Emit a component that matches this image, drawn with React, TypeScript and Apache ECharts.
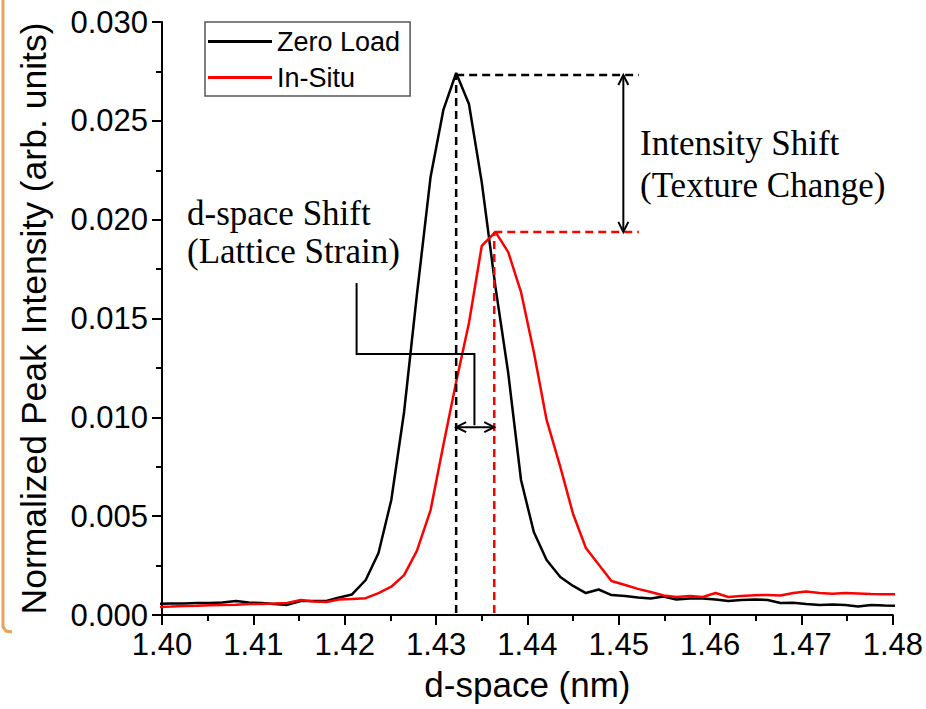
import React, { useEffect, useRef } from "react";
import * as echarts from "echarts";

// d-space sample positions (nm)
const dSpace = [
  1.3995, 1.4010, 1.4024, 1.4038, 1.4052, 1.4066, 1.4081, 1.4095, 1.4109, 1.4123,
  1.4137, 1.4152, 1.4166, 1.4180, 1.4194, 1.4208, 1.4223, 1.4237, 1.4251, 1.4265,
  1.4279, 1.4294, 1.4308, 1.4322, 1.4336, 1.4350, 1.4365, 1.4379, 1.4393, 1.4407,
  1.4421, 1.4436, 1.4450, 1.4464, 1.4478, 1.4492, 1.4507, 1.4521, 1.4535, 1.4549,
  1.4563, 1.4578, 1.4592, 1.4606, 1.4620, 1.4634, 1.4649, 1.4663, 1.4677, 1.4691,
  1.4705, 1.4720, 1.4734, 1.4748, 1.4762, 1.4776, 1.4791, 1.4805,
];

const zeroLoad = [
  0.00056, 0.00058, 0.00058, 0.00061, 0.00061, 0.00063, 0.00071, 0.00063, 0.00061, 0.00056,
  0.00051, 0.00071, 0.00071, 0.00071, 0.00089, 0.00104, 0.00177, 0.00314, 0.00582, 0.01027,
  0.01619, 0.02216, 0.02555, 0.02742, 0.02585, 0.0219, 0.0166, 0.01224, 0.00683, 0.0042,
  0.00278, 0.00192, 0.00147, 0.00111, 0.00129, 0.00101, 0.00096, 0.00089, 0.00084, 0.00094,
  0.00078, 0.00083, 0.00084, 0.00078, 0.00071, 0.00076, 0.00079, 0.00076, 0.00061, 0.00062,
  0.00056, 0.00051, 0.00053, 0.00051, 0.00043, 0.00051, 0.00048, 0.00046,
];

const inSitu = [
  0.0004, 0.00043, 0.00046, 0.00047, 0.00049, 0.00051, 0.00052, 0.00056, 0.00056, 0.00058,
  0.00061, 0.00076, 0.00068, 0.00066, 0.00078, 0.00081, 0.00085, 0.00111, 0.00143, 0.00202,
  0.00324, 0.00531, 0.0086, 0.01179, 0.01477, 0.01867, 0.01938, 0.01836, 0.01634, 0.0133,
  0.00987, 0.00749, 0.00511, 0.00339, 0.00256, 0.00172, 0.00152, 0.00132, 0.00116, 0.00099,
  0.00091, 0.00096, 0.00091, 0.00111, 0.00091, 0.00096, 0.001, 0.00101, 0.00099, 0.00111,
  0.00119, 0.00111, 0.00108, 0.00111, 0.00109, 0.00106, 0.00105, 0.00105,
];

const seriesNames = ["Zero Load", "In-Situ"];
const seriesColors = ["#000000", "#ff0000"];

// annotation anchors in data coordinates
const zeroPeak = [1.4322, 0.02742];
const situPeak = [1.43637, 0.01938];
const guideEndX = 1.4522;
const intensityArrowX = 1.4505;
const bracket = [
  [1.4213, 0.0168],
  [1.4213, 0.0132],
  [1.4342, 0.0132],
  [1.4342, 0.0096],
];
const dArrowY = 0.0095;

const textLines = [
  { text: "Intensity Shift", x: 640, y: 143 },
  { text: "(Texture Change)", x: 640, y: 185 },
  { text: "d-space Shift", x: 187, y: 213 },
  { text: "(Lattice Strain)", x: 187, y: 251 },
];

const SANS = "Arial, 'Liberation Sans', sans-serif";
const SERIF = "'Times New Roman', 'Liberation Serif', serif";

export default function App() {
  const ref = useRef<HTMLDivElement>(null);

  useEffect(() => {
    if (!ref.current) return;
    const chart = echarts.init(ref.current, undefined, { renderer: "svg" });

    const axisCommon = {
      type: "value" as const,
      axisLine: { show: true, lineStyle: { color: "#000", width: 2 } },
      axisTick: { show: true, inside: false, length: 10, lineStyle: { color: "#000", width: 2 } },
      minorTick: { show: true, splitNumber: 2, length: 6, lineStyle: { color: "#000", width: 2 } },
      splitLine: { show: false },
      minorSplitLine: { show: false },
    };

    chart.setOption({
      animation: false,
      backgroundColor: "#ffffff",
      grid: { left: 162, right: 31, top: 22, bottom: 94, containLabel: false },
      legend: {
        orient: "vertical",
        left: 205,
        top: 22,
        padding: [6, 10, 5, 3],
        itemWidth: 64,
        itemHeight: 3,
        itemGap: 9,
        icon: "rect",
        borderColor: "#555",
        borderWidth: 1.5,
        backgroundColor: "#fff",
        textStyle: { fontSize: 27, fontFamily: SANS, color: "#000" },
        data: seriesNames,
      },
      xAxis: {
        ...axisCommon,
        min: 1.4,
        max: 1.48,
        interval: 0.01,
        axisLabel: {
          fontSize: 31,
          fontFamily: SANS,
          color: "#000",
          margin: 14,
          formatter: (v: number) => v.toFixed(2),
        },
        name: "d-space (nm)",
        nameLocation: "middle",
        nameGap: 52,
        nameTextStyle: { fontSize: 35, fontFamily: SANS, color: "#000" },
      },
      yAxis: {
        ...axisCommon,
        min: 0,
        max: 0.03,
        interval: 0.005,
        axisLabel: {
          fontSize: 31,
          fontFamily: SANS,
          color: "#000",
          margin: 14,
          formatter: (v: number) => v.toFixed(3),
        },
        name: "Normalized Peak Intensity (arb. units)",
        nameLocation: "middle",
        nameGap: 110,
        nameTextStyle: { fontSize: 35.5, fontFamily: SANS, color: "#000" },
      },
      series: [zeroLoad, inSitu].map((vals, i) => ({
        name: seriesNames[i],
        type: "line",
        data: dSpace.map((x, j) => [x, vals[j]]),
        showSymbol: false,
        symbol: "none",
        lineStyle: { color: seriesColors[i], width: 2.5 },
        itemStyle: { color: seriesColors[i] },
        clip: true,
        z: 2,
      })),
    });

    const P = (x: number, y: number) =>
      chart.convertToPixel({ gridIndex: 0 }, [x, y]) as number[];

    const line = (pts: number[][], color: string, dashed: boolean, width = 2.5) => ({
      type: "polyline",
      shape: { points: pts },
      style: {
        stroke: color,
        fill: null,
        lineWidth: width,
        lineDash: dashed ? [8, 5] : null,
      },
      z: 10,
    });

    const zp = P(zeroPeak[0], zeroPeak[1]);
    const zb = P(zeroPeak[0], 0.0001);
    const sp = P(situPeak[0], situPeak[1]);
    const sb = P(situPeak[0], 0.0001);
    const ze = P(guideEndX, zeroPeak[1] - 0.0001);
    const zs = P(zeroPeak[0], zeroPeak[1] - 0.0001);
    const se = P(guideEndX, situPeak[1]);

    const a1 = P(intensityArrowX, zeroPeak[1] - 0.0001);
    const a2 = P(intensityArrowX, situPeak[1]);
    const b = bracket.map((p) => P(p[0], p[1]));
    const h1 = P(zeroPeak[0], dArrowY);
    const h2 = P(situPeak[0], dArrowY);

    const hw = 5;
    const hl = 10;
    const graphics: any[] = [
      // slide frame edge
      {
        type: "polyline",
        shape: { points: [[3, 0], [3, 627], [6, 631], [12, 632]] },
        style: { stroke: "#E8A25E", fill: null, lineWidth: 3 },
        z: 10,
      },
      line([zb, zp], "#000", true),
      line([zs, ze], "#000", true),
      line([sb, sp], "#ff0000", true),
      line([sp, se], "#ff0000", true),
      // intensity double arrow
      line([a1, a2], "#000", false, 2),
      line([[a1[0] - hw, a1[1] + hl], a1, [a1[0] + hw, a1[1] + hl]], "#000", false, 2),
      line([[a2[0] - hw, a2[1] - hl], a2, [a2[0] + hw, a2[1] - hl]], "#000", false, 2),
      // bracket
      line(b, "#000", false, 2),
      // d-space double arrow
      line([h1, h2], "#000", false, 2),
      line([[h1[0] + hl, h1[1] - hw], h1, [h1[0] + hl, h1[1] + hw]], "#000", false, 2),
      line([[h2[0] - hl, h2[1] - hw], h2, [h2[0] - hl, h2[1] + hw]], "#000", false, 2),
      ...textLines.map((t) => ({
        type: "text",
        x: t.x,
        y: t.y,
        style: {
          text: t.text,
          fontSize: 35,
          fontFamily: SERIF,
          fill: "#000",
          align: "left",
          verticalAlign: "middle",
        },
        z: 10,
      })),
    ];

    chart.setOption({ graphic: graphics });

    return () => chart.dispose();
  }, []);

  return (
    <div
      ref={ref}
      style={{ position: "fixed", left: 0, top: 0, width: 926, height: 709, background: "#fff" }}
    />
  );
}
